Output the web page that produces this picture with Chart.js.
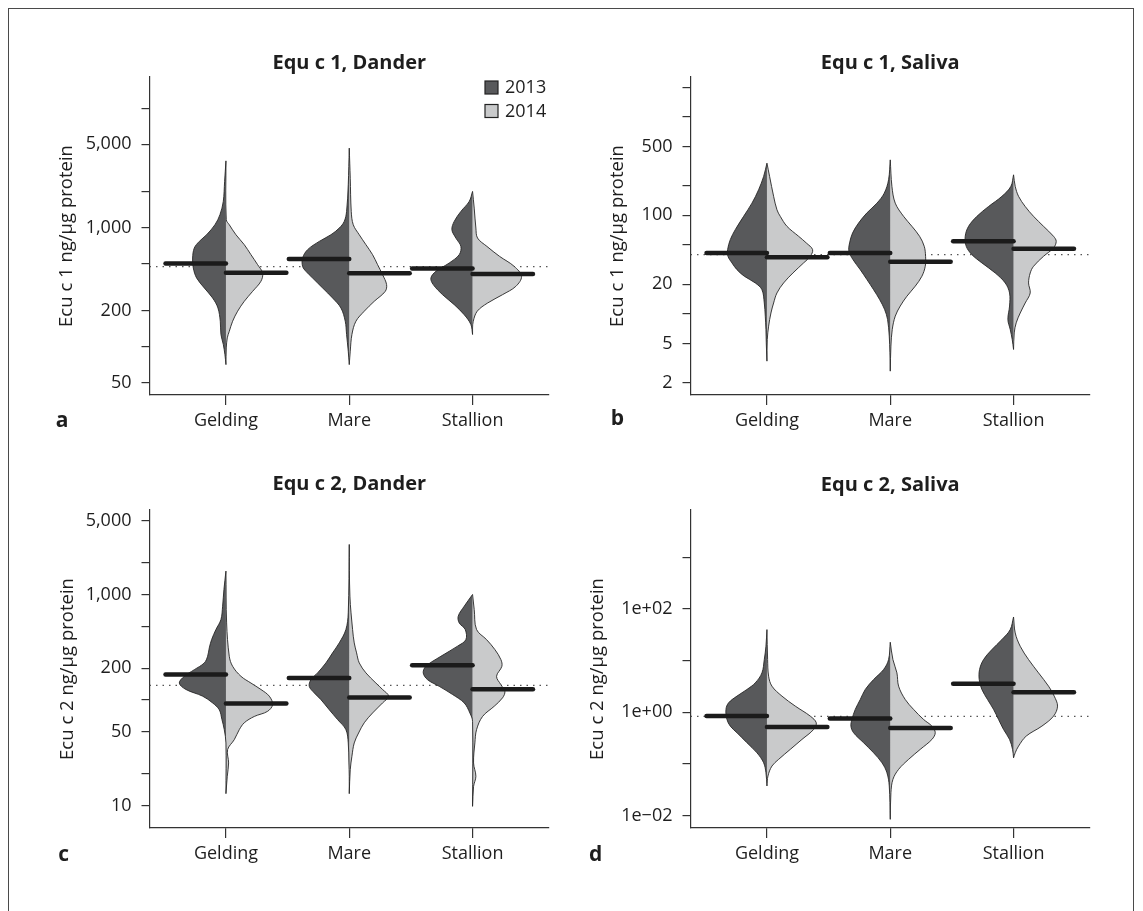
<!DOCTYPE html>
<html>
<head>
<meta charset="utf-8">
<script src="https://cdn.jsdelivr.net/npm/chart.js@4.4.0/dist/chart.umd.min.js"></script>
<style>
  html, body { margin: 0; padding: 0; background: #fff; overflow: hidden; }
  #page { position: relative; width: 1143px; height: 911px; }
  #frame { position: absolute; left: 8px; top: 8px; width: 1126px; height: 1000px;
           box-sizing: border-box; border: 1.5px solid #4a4a4a; }
  canvas { position: absolute; }
</style>
</head>
<body>
<div id="page">
  <div id="frame"></div>
  <canvas id="panelA" width="600" height="460" style="left:0px;top:0px"></canvas>
  <canvas id="panelB" width="600" height="460" style="left:541px;top:0px"></canvas>
  <canvas id="panelC" width="600" height="460" style="left:0px;top:433px"></canvas>
  <canvas id="panelD" width="600" height="460" style="left:541px;top:433px"></canvas>
</div>
<script>
// categories and groups
const categories = ["Gelding", "Mare", "Stallion"];
const years = ["2013", "2014"];
const yearColors = ["#58595b", "#c9cacb"];

// violin halves: [value, density] from top tip to bottom tip, one list per category
// density is the half width in arbitrary units, turned into category widths below
const DENSITY_SCALE = 1 / 370;

// a - Equ c 1, Dander
const dander1Violins2013 = [
  [[3626,0],[2436,4],[1657,8],[1282,18],[1057,33],[871,58],[766,80],[674,95],[556,100],[459,98],[378,88],[312,65],[257,40],[212,24],[164,17],[127,15],[105,8],[86,3],[71,0]],
  [[4636,0],[2286,3],[1366,8],[1127,15],[991,30],[871,55],[766,90],[653,125],[556,140],[473,140],[430,130],[378,110],[312,80],[257,50],[212,25],[164,12],[127,8],[92,3],[71,0]],
  [[2010,0],[1657,10],[1366,35],[1127,55],[959,62],[817,50],[696,35],[593,40],[505,70],[430,110],[378,125],[333,118],[274,90],[226,55],[186,25],[154,5],[127,0]]
];
const dander1Violins2014 = [
  [[3626,0],[1164,1],[1057,10],[871,30],[719,55],[593,75],[489,95],[416,110],[355,105],[292,80],[241,55],[199,35],[164,20],[135,10],[119,4],[98,1],[71,0]],
  [[4636,0],[2594,3],[1366,6],[1057,12],[871,30],[719,50],[593,70],[489,85],[403,100],[333,112],[292,108],[241,75],[199,45],[164,20],[127,8],[92,3],[71,0]],
  [[2010,0],[1457,5],[991,10],[817,15],[696,43],[574,81],[473,125],[390,147],[322,130],[274,90],[233,45],[199,14],[164,2],[144,0],[127,0]]
];
const dander1Median2013 = [501, 546, 453];
const dander1Median2014 = [419, 414, 409];
const dander1Reference = 470;
const dander1Range = [39.5, 18300];
const dander1Ticks = [50, 100, 200, 500, 1000, 2000, 5000, 10000];
const dander1TickLabels = ["50", "", "200", "", "1,000", "", "5,000", ""];

// b - Equ c 1, Saliva
const saliva1Violins2013 = [
  [[339,0],[248,10],[182,25],[133,45],[97.7,70],[71.6,95],[56.7,110],[44.9,118],[38.4,117],[32.9,105],[28.1,90],[24.1,68],[20.6,35],[17.6,15],[12.9,8],[9.47,5],[6.94,3],[5.08,2],[3.31,0]],
  [[366,0],[230,5],[168,18],[133,40],[106,70],[83.6,95],[66.3,113],[52.5,122],[43.2,124],[35.6,112],[28.1,90],[22.3,70],[17.6,50],[14.0,32],[11.1,17],[8.77,8],[5.94,3],[4.03,1],[2.62,0]],
  [[258,0],[197,8],[156,35],[123,75],[97.7,110],[77.4,135],[61.3,145],[48.5,142],[39.9,125],[32.9,95],[26.0,55],[20.6,25],[16.3,12],[12.0,12],[8.77,17],[6.94,10],[5.49,4],[4.35,0]]
];
const saliva1Violins2014 = [
  [[339,0],[248,8],[156,20],[114,30],[97.7,40],[77.4,60],[61.3,95],[52.5,118],[44.9,137],[38.4,130],[32.9,110],[26.0,78],[20.6,50],[16.3,30],[12.9,20],[10.2,12],[7.50,5],[5.49,1],[3.31,0]],
  [[366,0],[197,5],[133,15],[97.7,40],[77.4,65],[61.3,88],[48.5,102],[38.4,106],[30.4,105],[24.1,95],[19.1,75],[15.1,50],[12.0,30],[9.47,15],[6.94,6],[4.70,2],[2.62,0]],
  [[258,0],[197,5],[156,15],[123,35],[97.7,60],[77.4,90],[61.3,120],[54.5,128],[46.7,120],[38.4,90],[30.4,60],[26.0,50],[20.6,45],[16.3,50],[12.9,35],[10.2,20],[8.11,8],[6.41,2],[4.35,0]]
];
const saliva1Median2013 = [41.5, 41.5, 54.5];
const saliva1Median2014 = [37.5, 33.9, 45.9];
const saliva1Reference = 40;
const saliva1Range = [1.5, 2540];
const saliva1Ticks = [2, 5, 10, 20, 50, 100, 200, 500, 1000, 2000];
const saliva1TickLabels = ["2", "5", "", "20", "", "100", "", "500", "", ""];

// c - Equ c 2, Dander
const dander2Violins2013 = [
  [[1665,0],[1115,6],[774,10],[579,15],[466,30],[374,43],[312,50],[260,55],[225,65],[194,95],[168,125],[145,140],[126,120],[109,70],[94,40],[81,20],[65.4,12],[52.5,5],[39.3,0],[13.0,0]],
  [[2977,0],[670,3],[466,10],[348,30],[280,50],[225,70],[181,95],[156,115],[135,120],[117,105],[101,85],[81,60],[65.4,35],[52.5,10],[39.3,3],[25.4,1],[19.0,0],[13.0,0]],
  [[1000,0],[774,25],[623,43],[538,40],[466,22],[374,20],[324,45],[260,95],[209,140],[181,148],[156,135],[135,100],[113,60],[94,25],[75.5,8],[63.0,0],[9.86,0]]
];
const dander2Violins2014 = [
  [[1665,0],[538,2],[260,10],[209,20],[168,45],[145,75],[126,105],[109,130],[90.6,140],[78.3,125],[70,85],[61,55],[52.5,40],[42.2,25],[34,5],[25.4,8],[19.0,4],[13.0,0]],
  [[2977,0],[964,2],[466,10],[348,15],[280,22],[225,30],[181,50],[145,80],[126,100],[109,118],[94,100],[75.5,70],[61,45],[48.8,28],[39.3,15],[29.4,8],[21.9,3],[13.0,0]],
  [[1000,0],[721,5],[466,12],[374,42],[301,67],[242,85],[209,88],[168,72],[140,85],[121,97],[105,90],[87.4,65],[70,30],[52.5,12],[39.3,7],[25.4,3],[19.0,10],[15.2,3],[9.86,0]]
];
const dander2Median2013 = [175, 162, 214];
const dander2Median2014 = [92.6, 106, 127];
const dander2Reference = 138;
const dander2Range = [6.15, 6310];
const dander2Ticks = [10, 20, 50, 100, 200, 500, 1000, 2000, 5000];
const dander2TickLabels = ["10", "", "50", "", "200", "", "1,000", "", "5,000"];

// d - Equ c 2, Saliva
const saliva2Violins2013 = [
  [[39.9,0],[19.0,3],[10.5,8],[5.80,15],[3.72,35],[2.77,60],[2.06,90],[1.53,115],[1.14,123],[0.728,120],[0.541,110],[0.403,90],[0.258,60],[0.165,30],[0.106,10],[0.068,3],[0.0376,0]],
  [[22.7,0],[10.5,5],[6.73,20],[4.31,50],[2.77,75],[1.77,90],[1.14,105],[0.728,115],[0.541,118],[0.403,110],[0.258,80],[0.165,50],[0.106,25],[0.068,10],[0.0376,3],[0.0085,0]],
  [[70.0,0],[39.9,10],[25.6,35],[16.4,65],[10.5,90],[6.73,102],[4.31,103],[2.77,95],[1.77,78],[1.14,60],[0.728,45],[0.466,30],[0.299,12],[0.192,3],[0.132,0]]
];
const saliva2Violins2014 = [
  [[39.9,0],[10.5,2],[5.00,5],[3.21,15],[2.06,45],[1.32,85],[0.845,130],[0.628,148],[0.466,140],[0.299,105],[0.192,70],[0.123,35],[0.0914,15],[0.0586,3],[0.0376,0]],
  [[22.7,0],[10.5,8],[5.80,20],[3.21,25],[1.77,45],[1.14,70],[0.728,100],[0.541,125],[0.403,135],[0.299,125],[0.192,90],[0.123,55],[0.0788,25],[0.0505,8],[0.0279,2],[0.0085,0]],
  [[70.0,0],[34.4,5],[19.0,20],[10.5,45],[5.80,75],[3.21,105],[2.06,122],[1.32,132],[0.845,120],[0.541,85],[0.347,38],[0.222,15],[0.165,5],[0.132,0]]
];
const saliva2Median2013 = [0.845, 0.761, 3.56];
const saliva2Median2014 = [0.518, 0.495, 2.45];
const saliva2Reference = 0.832;
const saliva2Range = [0.00578, 8230];
const saliva2Ticks = [0.01, 0.1, 1, 10, 100, 1000];
const saliva2TickLabels = ["1e\u221202", "", "1e+00", "", "1e+02", ""];

const FONT = '"Open Sans", sans-serif';
const TEXT_SIZE = 18;
Chart.defaults.font.family = FONT;
Chart.defaults.color = "#1e1e1e";

const panels = [
  { id: "panelA", title: "Equ c 1, Dander", yTitle: "Ecu c 1 ng/\u00b5g protein", letter: "a",
    v2013: dander1Violins2013, v2014: dander1Violins2014, m2013: dander1Median2013, m2014: dander1Median2014,
    ref: dander1Reference, range: dander1Range, ticks: dander1Ticks, labels: dander1TickLabels,
    legend: true, titleY: 63, letterX: 62, letterY: 421, yTitleX: 67 },
  { id: "panelB", title: "Equ c 1, Saliva", yTitle: "Ecu c 1 ng/\u00b5g protein", letter: "b",
    v2013: saliva1Violins2013, v2014: saliva1Violins2014, m2013: saliva1Median2013, m2014: saliva1Median2014,
    ref: saliva1Reference, range: saliva1Range, ticks: saliva1Ticks, labels: saliva1TickLabels,
    legend: false, titleY: 63, letterX: 76.5, letterY: 419, yTitleX: 76.5 },
  { id: "panelC", title: "Equ c 2, Dander", yTitle: "Ecu c 2 ng/\u00b5g protein", letter: "c",
    v2013: dander2Violins2013, v2014: dander2Violins2014, m2013: dander2Median2013, m2014: dander2Median2014,
    ref: dander2Reference, range: dander2Range, ticks: dander2Ticks, labels: dander2TickLabels,
    legend: false, titleY: 51, letterX: 63.6, letterY: 422, yTitleX: 67.3 },
  { id: "panelD", title: "Equ c 2, Saliva", yTitle: "Ecu c 2 ng/\u00b5g protein", letter: "d",
    v2013: saliva2Violins2013, v2014: saliva2Violins2014, m2013: saliva2Median2013, m2014: saliva2Median2014,
    ref: saliva2Reference, range: saliva2Range, ticks: saliva2Ticks, labels: saliva2TickLabels,
    legend: false, titleY: 52, letterX: 54.6, letterY: 422, yTitleX: 56.4 }
];

const X_MIN = 0.38, X_MAX = 3.62;

// one half of a split violin, side -1 = left, +1 = right
function halfViolin(outline, center, side, color) {
  return {
    data: outline.map(([v, d]) => ({ x: center + side * d * DENSITY_SCALE, y: v })),
    fill: "shape",
    backgroundColor: color,
    borderColor: "#262626",
    borderWidth: 0.9,
    pointRadius: 0,
    tension: 0.35,
    order: 2
  };
}

function medianBar(value, center, side) {
  return {
    data: [{ x: center, y: value }, { x: center + side * 0.49, y: value }],
    borderColor: "#1b1b1b",
    borderWidth: 4.5,
    borderCapStyle: "round",
    pointRadius: 0,
    fill: false,
    order: 1
  };
}

// title, panel letter and legend
const panelText = {
  id: "panelText",
  afterDraw(chart, args, o) {
    const ctx = chart.ctx, area = chart.chartArea;
    ctx.save();
    ctx.fillStyle = "#1e1e1e";
    ctx.textBaseline = "middle";
    ctx.textAlign = "center";
    ctx.font = "bold 20px " + FONT;
    ctx.fillText(o.title, (area.left + area.right) / 2, o.titleY);
    ctx.font = "bold 21px " + FONT;
    ctx.fillText(o.letter, o.letterX, o.letterY);
    if (o.legend) {
      ctx.font = TEXT_SIZE + "px " + FONT;
      ctx.textAlign = "left";
      years.forEach((y, i) => {
        const top = 81 + i * 23.5;
        ctx.fillStyle = yearColors[i];
        ctx.fillRect(485, top, 13, 13);
        ctx.strokeStyle = "#222";
        ctx.lineWidth = 1.2;
        ctx.strokeRect(485, top, 13, 13);
        ctx.fillStyle = "#1e1e1e";
        ctx.fillText(y, 505, top + 7);
      });
    }
    ctx.restore();
  }
};

panels.forEach(p => {
  const datasets = [];
  // dotted reference line, behind everything
  datasets.push({
    data: [{ x: X_MIN, y: p.ref }, { x: X_MAX, y: p.ref }],
    borderColor: "#555",
    borderWidth: 1.3,
    borderDash: [1.5, 5],
    pointRadius: 0,
    fill: false,
    order: 3
  });
  categories.forEach((c, i) => {
    const center = i + 1;
    datasets.push(halfViolin(p.v2013[i], center, -1, yearColors[0]));
    datasets.push(halfViolin(p.v2014[i], center, 1, yearColors[1]));
    datasets.push(medianBar(p.m2013[i], center, -1));
    datasets.push(medianBar(p.m2014[i], center, 1));
  });

  new Chart(document.getElementById(p.id), {
    type: "line",
    data: { datasets },
    plugins: [panelText],
    options: {
      responsive: false,
      animation: false,
      events: [],
      layout: { padding: { left: 0, top: 77, right: 51, bottom: 0 } },
      plugins: {
        legend: { display: false },
        title: { display: false },
        tooltip: { enabled: false },
        panelText: p
      },
      scales: {
        x: {
          type: "linear",
          min: X_MIN,
          max: X_MAX,
          afterBuildTicks: s => { s.ticks = categories.map((c, i) => ({ value: i + 1 })); },
          afterFit: s => { s.height = 65; },
          ticks: {
            autoSkip: false,
            maxRotation: 0,
            padding: 5,
            font: { size: TEXT_SIZE },
            callback: v => categories[Math.round(v) - 1]
          },
          grid: { drawOnChartArea: false, drawTicks: true, tickLength: 10, color: "#333", lineWidth: 1.2 },
          border: { display: true, color: "#333", width: 1.2 }
        },
        y: {
          type: "logarithmic",
          min: p.range[0],
          max: p.range[1],
          bounds: "data",
          afterBuildTicks: s => { s.ticks = p.ticks.map(v => ({ value: v })); },
          afterFit: s => { s.width = 149.5; },
          ticks: {
            autoSkip: false,
            padding: 10,
            font: { size: TEXT_SIZE },
            major: { enabled: false },
            callback: v => p.labels[p.ticks.indexOf(v)] ?? ""
          },
          grid: { drawOnChartArea: false, drawTicks: true, tickLength: 8, color: "#333", lineWidth: 1.2 },
          border: { display: true, color: "#333", width: 1.2 },
          title: {
            display: true,
            text: p.yTitle,
            font: { size: TEXT_SIZE + 0.5 },
            padding: { top: p.yTitleX - 11.1, bottom: 0 }
          }
        }
      }
    }
  });
});
</script>
</body>
</html>
